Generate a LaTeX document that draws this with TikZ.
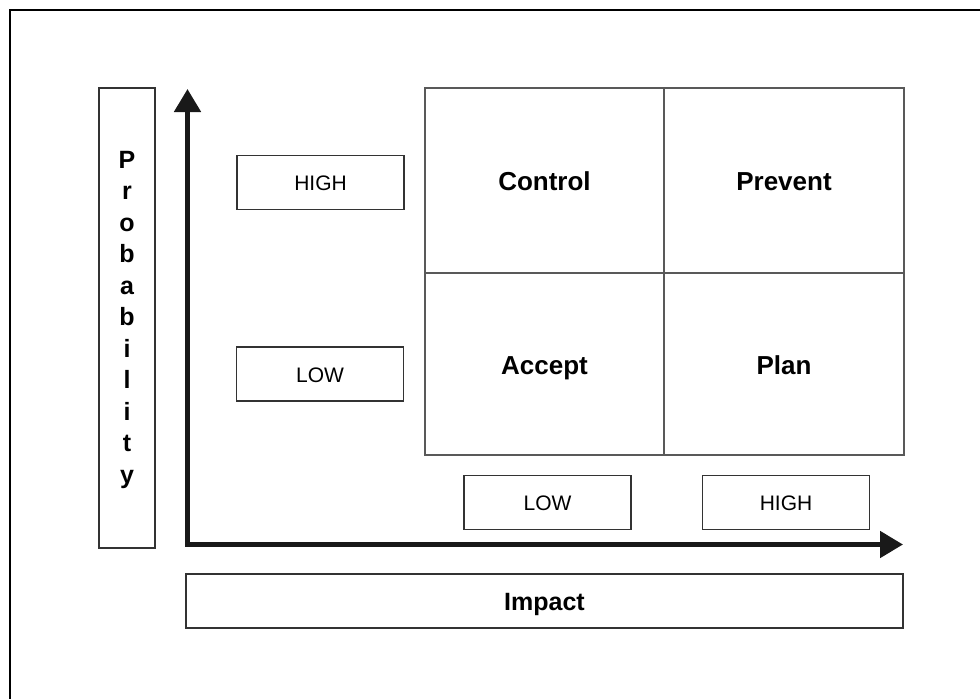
\documentclass[tikz,border=0pt]{standalone}
\usepackage{fontspec}
\setmainfont{Liberation Sans}
\usetikzlibrary{arrows.meta}
\tikzset{
  box/.style={draw=black!80, line width=1.2pt, inner sep=0pt, outer sep=0pt},
  quad/.style={draw=black!65, line width=1.6pt, inner sep=0pt, outer sep=0pt,
    minimum height=#1, text height=20pt, text depth=0pt,
    font=\fontsize{26}{30}\selectfont\bfseries},
  lvl/.style={box, minimum width=167pt, minimum height=54pt, text height=16pt, text depth=0pt,
    font=\fontsize{21}{25}\selectfont},
  letter/.style={anchor=base, inner sep=0pt, font=\fontsize{25}{30}\selectfont\bfseries},
  axis/.style={line width=5pt, draw=black!90, line join=miter,
    {Triangle[width=26pt,length=23pt]}-{Triangle[width=26pt,length=23pt]}},
  frame/.style={draw=black, line width=1.6pt}
}
\begin{document}
\begin{tikzpicture}[x=1pt,y=-1pt]
\useasboundingbox (0,0) rectangle (980,699);
% outer frame (cut by the page at right and bottom)
\coordinate (ftr) at (980,10);
\coordinate (ftl) at (10,10);
\coordinate (fbl) at (10,699);
\draw[frame] (ftr) -- (ftl) -- (fbl);

% probability box
\node[box, minimum width=56pt, minimum height=460pt] (prob) at (127,318) {};
\foreach \ch [count=\k from 0] in {P,r,o,b,a,b,i,l,i,t,y}{
  \node[letter] (l\k) at (127,{168+31.5*\k}) {\ch};
}

% axes
\coordinate (ytip) at (187.5,89);
\coordinate (xtip) at (903,544.5);
\draw[axis] (ytip) |- (xtip);

% level boxes
\node[lvl] (highL) at (320.5,182.5) {HIGH};
\node[lvl] (lowL) at (320,374) {LOW};
\node[lvl] (lowB) at (547.5,502.5) {LOW};
\node[lvl] (highB) at (786,502.5) {HIGH};

% quadrants
\node[quad=185pt, minimum width=239pt] (control) at (544.5,180.5) {Control};
\node[quad=185pt, minimum width=240pt] (prevent) at (784,180.5) {Prevent};
\node[quad=182pt, minimum width=239pt] (accept) at (544.5,364) {Accept};
\node[quad=182pt, minimum width=240pt] (plan) at (784,364) {Plan};

% impact
\node[box, minimum width=717pt, minimum height=54pt, text height=18pt, text depth=0pt,
  font=\fontsize{25}{30}\selectfont\bfseries] (impact) at (544.5,601) {Impact};
\end{tikzpicture}
\end{document}
